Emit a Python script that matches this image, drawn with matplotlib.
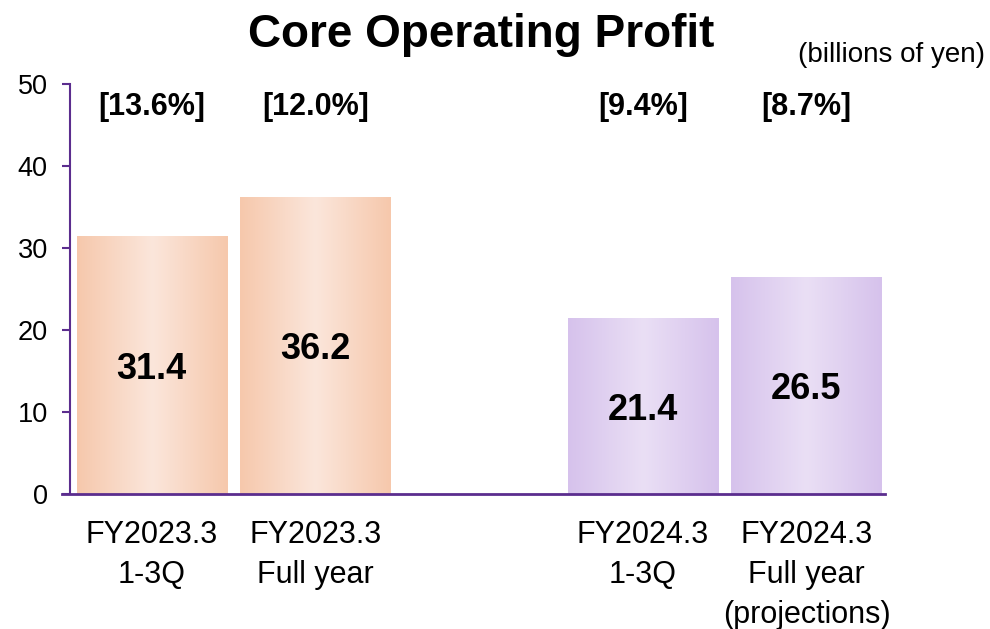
import numpy as np
import matplotlib
matplotlib.use("Agg")
import matplotlib.pyplot as plt
from matplotlib.colors import LinearSegmentedColormap

plt.rcParams['font.family'] = ['Liberation Sans', 'DejaVu Sans']

categories = ["FY2023.3\n1-3Q", "FY2023.3\nFull year", "FY2024.3\n1-3Q", "FY2024.3\nFull year\n(projections)"]
values = [31.4, 36.2, 21.4, 26.5]
margins = ["[13.6%]", "[12.0%]", "[9.4%]", "[8.7%]"]
positions = [0, 1, 3, 4]
yticks = [0, 10, 20, 30, 40, 50]

axis_color = "#5B2D8E"
orange_edge, orange_mid = "#F6C8AC", "#FBE6DB"
purple_edge, purple_mid = "#D6C2EC", "#EADFF5"
bar_colors = [(orange_edge, orange_mid), (orange_edge, orange_mid),
              (purple_edge, purple_mid), (purple_edge, purple_mid)]

fig = plt.figure(figsize=(9.9, 6.29), dpi=100)
ax = fig.add_axes([0.0707, 0.2146, 0.8233, 0.652])

width = 0.917
grad = np.concatenate([np.linspace(0, 1, 128), np.linspace(1, 0, 128)]).reshape(1, -1)
for x, v, (ce, cm) in zip(positions, values, bar_colors):
    bar = ax.bar(x, v, width=width, color="none", edgecolor="none", zorder=2)[0]
    cmap = LinearSegmentedColormap.from_list("g", [ce, cm])
    im = ax.imshow(grad, cmap=cmap, aspect="auto", interpolation="bilinear",
                   extent=(x - width / 2, x + width / 2, 0, v), zorder=1)
    im.set_clip_path(bar)
    ax.text(x, v / 2 - 0.5, f"{v:.1f}", ha="center", va="center", fontsize=26,
            fontweight="bold", color="black", zorder=3)

for x, m in zip(positions, margins):
    ax.text(x, 47.2, m, ha="center", va="center", fontsize=22,
            fontweight="bold", color="black")

ax.set_xlim(-0.5, 4.48)
ax.set_ylim(0, 50)
ax.set_yticks(yticks)
ax.set_yticklabels([str(t) for t in yticks], fontsize=19.5)
ax.set_xticks(positions)
ax.set_xticklabels(categories, fontsize=22, linespacing=1.42)
ax.tick_params(axis="x", length=0, pad=19)
ax.tick_params(axis="y", length=6, width=1.5, color=axis_color, pad=10, direction="out")

for s in ["top", "right"]:
    ax.spines[s].set_visible(False)
ax.spines["left"].set_color(axis_color)
ax.spines["left"].set_linewidth(1.5)
ax.spines["bottom"].set_visible(False)
ax.plot([-0.55, 4.48], [0, 0], color=axis_color, lw=2, clip_on=False, zorder=4)

fig.text(0.486, 0.945, "Core Operating Profit", ha="center", va="center",
         fontsize=33, fontweight="bold")
fig.text(0.995, 0.913, "(billions of yen)", ha="right", va="center", fontsize=20)

fig.savefig("out.png", dpi=100)
